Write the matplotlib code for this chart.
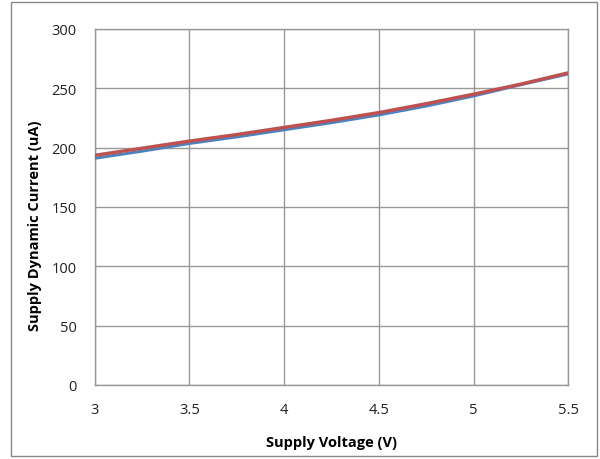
import matplotlib
matplotlib.use('Agg')
import matplotlib.pyplot as plt
from matplotlib.patches import Rectangle

# supply voltage (V) and dynamic current (uA) for the two measured parts
voltage = [3.0, 3.25, 3.5, 3.75, 4.0, 4.25, 4.5, 4.75, 5.0, 5.25, 5.5]
current_blue = [191, 197, 203.5, 209, 215, 221, 227.5, 235, 243.5, 253, 262]
current_red = [193.5, 199.5, 205.5, 211, 217, 223, 229.5, 237, 245, 253.5, 263]

x_ticks = [3, 3.5, 4, 4.5, 5, 5.5]
y_ticks = [0, 50, 100, 150, 200, 250, 300]

plt.rcParams['font.family'] = ['Open Sans', 'DejaVu Sans']

fig = plt.figure(figsize=(6, 4.6), dpi=100)
ax = fig.add_axes([0.158, 0.161, 0.789, 0.774])

ax.plot(voltage, current_blue, color='#4F81BD', linewidth=2.2, solid_capstyle='butt', zorder=3)
ax.plot(voltage, current_red, color='#C0504D', linewidth=2.4, solid_capstyle='butt', zorder=4)

ax.set_xlim(3, 5.5)
ax.set_ylim(0, 300)
ax.set_xticks(x_ticks)
ax.set_xticklabels(['3', '3.5', '4', '4.5', '5', '5.5'])
ax.set_yticks(y_ticks)
ax.tick_params(length=0, labelsize=10.5, colors='#222222')
ax.tick_params(axis='x', pad=12)
ax.tick_params(axis='y', pad=13)

ax.grid(True, color='#999999', linewidth=1)
ax.set_axisbelow(True)
for s in ax.spines.values():
    s.set_color('#999999')
    s.set_linewidth(1)

ax.set_xlabel('Supply Voltage (V)', fontsize=10.5, fontweight='bold', labelpad=13)
ax.set_ylabel('Supply Dynamic Current (uA)', fontsize=10.5, fontweight='bold')
ax.yaxis.set_label_coords(-0.112, 0.45)

# outer chart border
fig.patches.append(Rectangle((0.018, 0.007), 0.977, 0.986, transform=fig.transFigure,
                             fill=False, edgecolor='#888888', linewidth=1))

fig.savefig('out.png', dpi=100)
